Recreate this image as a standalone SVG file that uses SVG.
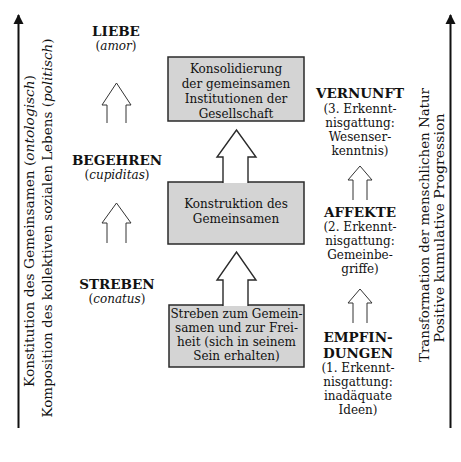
<svg xmlns="http://www.w3.org/2000/svg" width="461" height="462" viewBox="0 0 461 462">
<defs>
<style>
text{font-family:"DejaVu Serif","Liberation Serif",serif;fill:#111;font-size:12px;text-anchor:middle}
.h{font-weight:bold;font-size:13.5px}
.i{font-style:italic}
.box{fill:#d4d4d4;stroke:#2a2a2a;stroke-width:1.5}
.big{fill:#fff;stroke:#2a2a2a;stroke-width:1.4}
.sm{fill:#fff;stroke:#333;stroke-width:1}
.axis{stroke:#111;stroke-width:2;fill:none}
</style>
<marker id="ah" viewBox="0 0 10 10" refX="9" refY="5" markerWidth="5" markerHeight="6" orient="auto" markerUnits="strokeWidth">
<path d="M0,0 L10,5 L0,10 z" fill="#111"/>
</marker>
</defs>
<rect width="461" height="462" fill="#fff"/>

<g id="connectors">
<line class="axis" x1="18.5" y1="428" x2="18.5" y2="15" marker-end="url(#ah)"/>
<line class="axis" x1="450.5" y1="428" x2="450.5" y2="15" marker-end="url(#ah)"/>
<polyline class="sm" points="107,123 107,105 102,105 116.5,83 131,105 126,105 126,123"/>
<polyline class="sm" points="107,243 107,223 102,223 116.5,203 131,223 126,223 126,243"/>
<polyline class="sm" points="353,200 353,180 348,180 360,166 372,180 367,180 367,200"/>
<polyline class="sm" points="353,323 353,303 348,303 360,289 372,303 367,303 367,323"/>
</g>

<g id="box-konsolidierung">
<rect class="box" x="168" y="57" width="136" height="64"/>
<text x="236" y="73">Konsolidierung</text>
<text x="236" y="88">der gemeinsamen</text>
<text x="236" y="103">Institutionen der</text>
<text x="236" y="118">Gesellschaft</text>
</g>
<g id="box-konstruktion">
<rect class="box" x="168" y="182" width="136" height="62"/>
<text x="236" y="208">Konstruktion des</text>
<text x="236" y="223">Gemeinsamen</text>
</g>
<g id="box-streben">
<rect class="box" x="169" y="305" width="135" height="62"/>
<text x="236.5" y="318">Streben zum Gemein-</text>
<text x="236.5" y="332">samen und zur Frei-</text>
<text x="236.5" y="346">heit (sich in seinem</text>
<text x="236.5" y="360">Sein erhalten)</text>
</g>
<g id="big-arrows">
<polyline class="big" points="223,183 223,157 217,157 236.5,130 256,157 248,157 248,183"/>
<polyline class="big" points="223,306 223,280 217,280 236.5,252 256,280 248,280 248,306"/>
</g>

<g id="liebe">
<text class="h" x="116" y="36">LIEBE</text>
<text x="116" y="50">(<tspan class="i">amor</tspan>)</text>
</g>
<g id="begehren">
<text class="h" x="117" y="165">BEGEHREN</text>
<text x="117" y="179">(<tspan class="i">cupiditas</tspan>)</text>
</g>
<g id="streben">
<text class="h" x="117" y="289">STREBEN</text>
<text x="117" y="303">(<tspan class="i">conatus</tspan>)</text>
</g>

<g id="vernunft">
<text class="h" x="360" y="98">VERNUNFT</text>
<text x="360" y="113">(3. Erkennt-</text>
<text x="360" y="127">nisgattung:</text>
<text x="360" y="141">Wesenser-</text>
<text x="360" y="155">kenntnis)</text>
</g>
<g id="affekte">
<text class="h" x="360" y="217">AFFEKTE</text>
<text x="360" y="231">(2. Erkennt-</text>
<text x="360" y="245">nisgattung:</text>
<text x="360" y="259">Gemeinbe-</text>
<text x="360" y="273">griffe)</text>
</g>
<g id="empfindungen">
<text class="h" x="358" y="342">EMPFIN-</text>
<text class="h" x="358" y="358">DUNGEN</text>
<text x="358" y="372">(1. Erkennt-</text>
<text x="358" y="386">nisgattung:</text>
<text x="358" y="400">inadäquate</text>
<text x="358" y="414">Ideen)</text>
</g>

<g id="axis-left-labels">
<text transform="translate(34,231) rotate(-90)" textLength="312" lengthAdjust="spacingAndGlyphs">Konstitution des Gemeinsamen (<tspan class="i">ontologisch</tspan>)</text>
<text transform="translate(52,228) rotate(-90)" textLength="379" lengthAdjust="spacingAndGlyphs">Komposition des kollektiven sozialen Lebens (<tspan class="i">politisch</tspan>)</text>
</g>
<g id="axis-right-labels">
<text transform="translate(429,225) rotate(-90)" textLength="274" lengthAdjust="spacingAndGlyphs">Transformation der menschlichen Natur</text>
<text transform="translate(444,228) rotate(-90)" textLength="229" lengthAdjust="spacingAndGlyphs">Positive kumulative Progression</text>
</g>
</svg>
